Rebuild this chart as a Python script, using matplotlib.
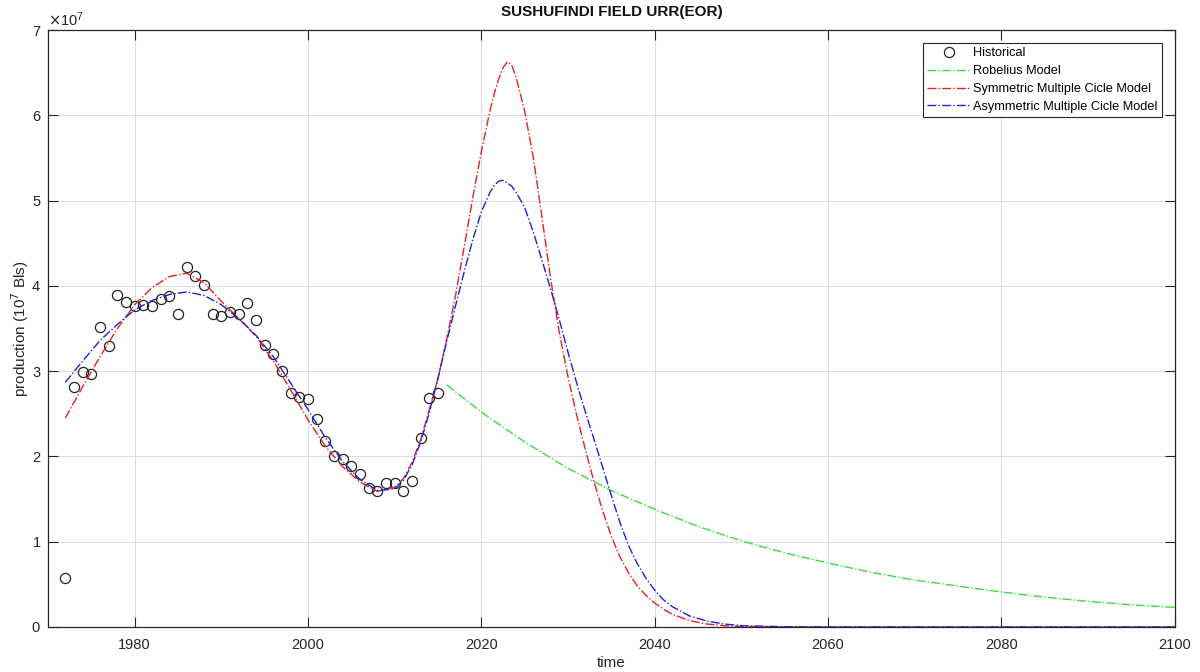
import matplotlib
matplotlib.use("Agg")
import matplotlib.pyplot as plt
from matplotlib.ticker import ScalarFormatter, FixedLocator

plt.rcParams['font.family'] = ['Liberation Sans', 'DejaVu Sans']

SCALE = 1e7

# Historical production (units of 1e7 barrels)
hist_years = list(range(1972, 2016))
hist_vals = [0.57, 2.81, 2.99, 2.97, 3.52, 3.30, 3.89, 3.81, 3.76, 3.78,
             3.76, 3.85, 3.88, 3.67, 4.22, 4.12, 4.01, 3.67, 3.65, 3.69,
             3.67, 3.80, 3.60, 3.31, 3.20, 3.00, 2.75, 2.70, 2.67, 2.44,
             2.18, 2.01, 1.97, 1.89, 1.79, 1.63, 1.60, 1.69, 1.69, 1.60,
             1.71, 2.22, 2.69, 2.74]

# Robelius model
rob_years = [2016, 2020, 2025, 2030, 2035, 2040, 2045, 2050, 2055, 2060,
             2065, 2070, 2075, 2080, 2085, 2090, 2095, 2100]
rob_vals = [2.84, 2.52, 2.17, 1.86, 1.60, 1.38, 1.18, 1.01, 0.87, 0.75,
            0.64, 0.55, 0.48, 0.41, 0.35, 0.30, 0.26, 0.23]

# Multi-cycle model curves (sample years)
cyc_years = [1972, 1974, 1976, 1978, 1980, 1982, 1984, 1986, 1988, 1990,
             1992, 1994, 1996, 1998, 2000, 2002, 2004, 2006, 2008, 2010,
             2011, 2012, 2013, 2014, 2015, 2016, 2017, 2018, 2019, 2020,
             2021, 2021.5, 2022, 2022.5, 2023, 2023.5, 2024, 2025, 2026,
             2027, 2028, 2029, 2030,
             2031, 2032, 2033, 2034, 2035, 2036, 2037, 2038, 2039, 2040,
             2041, 2042, 2044, 2046, 2048, 2050, 2055, 2060, 2070, 2080,
             2090, 2100]
sym_vals = [2.45, 2.82, 3.17, 3.50, 3.78, 3.98, 4.11, 4.15, 4.04, 3.82,
            3.62, 3.41, 3.12, 2.78, 2.43, 2.12, 1.88, 1.70, 1.59, 1.64,
            1.74, 1.93, 2.20, 2.55, 2.92, 3.38, 3.88, 4.45, 5.03, 5.58,
            6.06, 6.26, 6.43, 6.56, 6.63, 6.59, 6.45, 6.05, 5.50,
            4.80, 4.08, 3.45, 2.93,
            2.48, 2.08, 1.70, 1.36, 1.06, 0.82, 0.63, 0.48, 0.37, 0.28,
            0.21, 0.15, 0.075, 0.035, 0.015, 0.006, 0.001, 0.0, 0.0, 0.0,
            0.0, 0.0]
asym_vals = [2.87, 3.12, 3.36, 3.55, 3.72, 3.83, 3.90, 3.93, 3.89, 3.78,
             3.62, 3.42, 3.17, 2.86, 2.55, 2.22, 1.94, 1.73, 1.60, 1.62,
             1.72, 1.90, 2.17, 2.52, 2.92, 3.35, 3.76, 4.16, 4.54, 4.87,
             5.10, 5.18, 5.23, 5.24, 5.21, 5.17, 5.10, 4.92, 4.63,
             4.30, 3.96, 3.60, 3.22,
             2.86, 2.52, 2.20, 1.87, 1.54, 1.22, 0.95, 0.74, 0.57, 0.43,
             0.32, 0.24, 0.13, 0.07, 0.035, 0.015, 0.003, 0.0, 0.0, 0.0,
             0.0, 0.0]

x_ticks = [1980, 2000, 2020, 2040, 2060, 2080, 2100]
y_ticks = [0, 1, 2, 3, 4, 5, 6, 7]

fig = plt.figure(figsize=(12, 6.72), dpi=100)
ax = fig.add_axes([0.040, 0.067, 0.939, 0.888])

txt = '#262626'
ax.plot(hist_years, [v * SCALE for v in hist_vals], linestyle='none',
        marker='o', markersize=7.3, markerfacecolor='none',
        markeredgecolor='#222222', markeredgewidth=0.9, label='Historical')
ax.plot(rob_years, [v * SCALE for v in rob_vals], linestyle='-.',
        color='#3ddc3d', linewidth=1.0, label='Robelius Model')
ax.plot(cyc_years, [v * SCALE for v in sym_vals], linestyle='-.',
        color='#e8201f', linewidth=1.0, label='Symmetric Multiple Cicle Model')
ax.plot(cyc_years, [v * SCALE for v in asym_vals], linestyle='-.',
        color='#1f1fd8', linewidth=1.0, label='Asymmetric Multiple Cicle Model')

ax.set_xlim(1970, 2100)
ax.set_ylim(0, 7 * SCALE)
ax.xaxis.set_major_locator(FixedLocator(x_ticks))
ax.yaxis.set_major_locator(FixedLocator([v * SCALE for v in y_ticks]))
fmt = ScalarFormatter(useMathText=True)
fmt.set_powerlimits((0, 0))
ax.yaxis.set_major_formatter(fmt)
ax.yaxis.get_offset_text().set_fontsize(10.5)
ax.yaxis.get_offset_text().set_color(txt)

ax.grid(True, color='#dcdcdc', linewidth=0.7)
ax.set_axisbelow(True)
ax.tick_params(direction='in', length=7, width=0.8, top=True, right=True,
               labelsize=10.5, colors='#262626')
ax.tick_params(axis='x', pad=8)
ax.tick_params(axis='y', pad=5)
for s in ax.spines.values():
    s.set_color('#262626')
    s.set_linewidth(0.9)

ax.set_xlabel('time', fontsize=11, color=txt, labelpad=3)
ax.set_ylabel('production (10$^7$ Bls)', fontsize=11, color=txt, labelpad=0)
ax.set_title('SUSHUFINDI FIELD URR(EOR)', fontsize=11, fontweight='bold',
             color='#111111', pad=10)

leg = ax.legend(loc='upper right', fontsize=9.2, frameon=True, fancybox=False,
                edgecolor='#262626', framealpha=1, borderpad=0.35,
                labelspacing=0.45, handlelength=3.4, handletextpad=0.2,
                borderaxespad=1.0)
leg.get_frame().set_linewidth(0.8)

fig.savefig('out.png', dpi=100)
